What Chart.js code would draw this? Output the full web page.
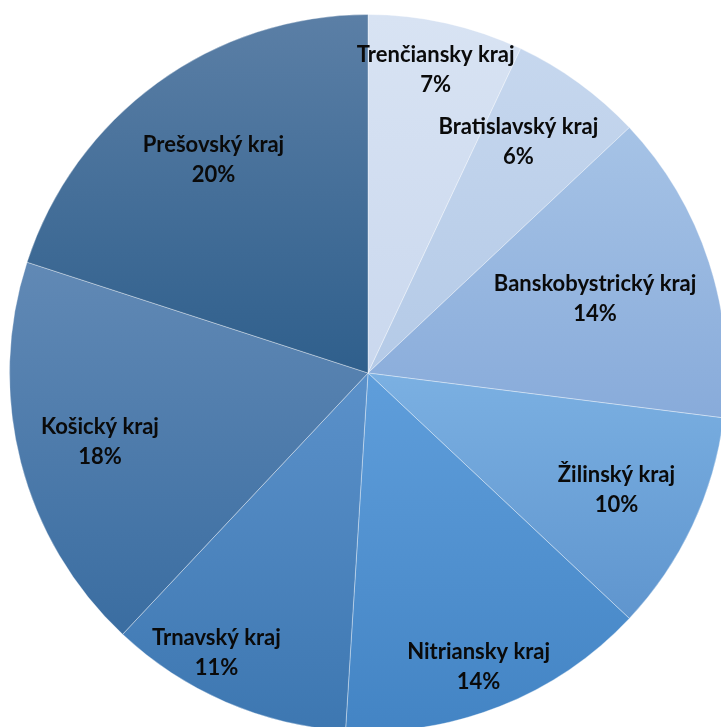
<!DOCTYPE html>
<html>
<head>
<meta charset="utf-8">
<script src="https://cdn.jsdelivr.net/npm/chart.js@4/dist/chart.umd.min.js"></script>
<style>
  html, body { margin: 0; padding: 0; background: #fff; overflow: hidden; }
  #wrap { position: relative; width: 721px; height: 727px; overflow: hidden; }
  #pie { position: absolute; left: 9px; top: 14px; }
</style>
</head>
<body>
<div id="wrap"><canvas id="pie" width="718" height="718"></canvas></div>
<script>
"use strict";

// podiel krajov v percentach
const regions = [
  'Trenčiansky kraj', 'Bratislavský kraj', 'Banskobystrický kraj', 'Žilinský kraj',
  'Nitriansky kraj', 'Trnavský kraj', 'Košický kraj', 'Prešovský kraj'
];
const shares = [7, 6, 14, 10, 14, 11, 18, 20];

// farby vyseci: horny a dolny okraj prechodu
const topColors = ['#d8e3f3', '#c6d7ee', '#a6c3e6', '#7bb0e2', '#5f9edb', '#5b91ca', '#6189b5', '#5b7fa6'];
const bottomColors = ['#cad8ee', '#b4cae7', '#88abda', '#5f95ce', '#4384c4', '#3d77b1', '#3a6da1', '#2f5f8c'];

// umiestnenie popiskov (cast polomeru, posun uhla v stupnoch)
const labelRadius = [0.866, 0.77, 0.666, 0.766, 0.877, 0.889, 0.772, 0.733];
const labelShift = [0, -3, 0, 0, 1, 5, 0, 0];

function sliceFill(c) {
  const i = c.dataIndex;
  const chart = c.chart;
  const area = chart.chartArea;
  if (!area) return topColors[i];
  const cx = (area.left + area.right) / 2;
  const cy = (area.top + area.bottom) / 2;
  const r = Math.min(area.width, area.height) / 2;
  const total = shares.reduce((s, v) => s + v, 0);
  let start = -Math.PI / 2;
  for (let k = 0; k < i; k++) start += shares[k] / total * Math.PI * 2;
  const end = start + shares[i] / total * Math.PI * 2;
  const ys = [cy, cy + r * Math.sin(start), cy + r * Math.sin(end)];
  for (const q of [Math.PI / 2, Math.PI * 1.5]) {
    if (q > start && q < end) ys.push(cy + r * Math.sin(q));
  }
  const g = chart.ctx.createLinearGradient(0, Math.min(...ys), 0, Math.max(...ys));
  g.addColorStop(0, topColors[i]);
  g.addColorStop(1, bottomColors[i]);
  return g;
}

const sliceLabels = {
  id: 'sliceLabels',
  afterDatasetsDraw(chart) {
    const ctx = chart.ctx;
    const meta = chart.getDatasetMeta(0);
    ctx.save();
    ctx.font = 'bold 22px Lato';
    ctx.fillStyle = '#0a0a0a';
    ctx.textAlign = 'center';
    ctx.textBaseline = 'middle';
    meta.data.forEach((arc, i) => {
      const p = arc.getProps(['x', 'y', 'startAngle', 'endAngle', 'outerRadius'], true);
      const a = (p.startAngle + p.endAngle) / 2 + labelShift[i] * Math.PI / 180;
      const r = p.outerRadius * labelRadius[i];
      const lx = p.x + Math.cos(a) * r;
      const ly = p.y + Math.sin(a) * r;
      ctx.fillText(regions[i], lx, ly - 15);
      ctx.fillText(shares[i] + '%', lx, ly + 15);
    });
    ctx.restore();
  }
};

new Chart(document.getElementById('pie'), {
  type: 'pie',
  data: {
    labels: regions,
    datasets: [{
      data: shares,
      backgroundColor: sliceFill,
      borderColor: 'rgba(255,255,255,0.35)',
      borderWidth: 1
    }]
  },
  options: {
    responsive: false,
    devicePixelRatio: 1,
    animation: false,
    layout: { padding: 0 },
    plugins: {
      legend: { display: false },
      tooltip: { enabled: false }
    }
  },
  plugins: [sliceLabels]
});
</script>
</body>
</html>
